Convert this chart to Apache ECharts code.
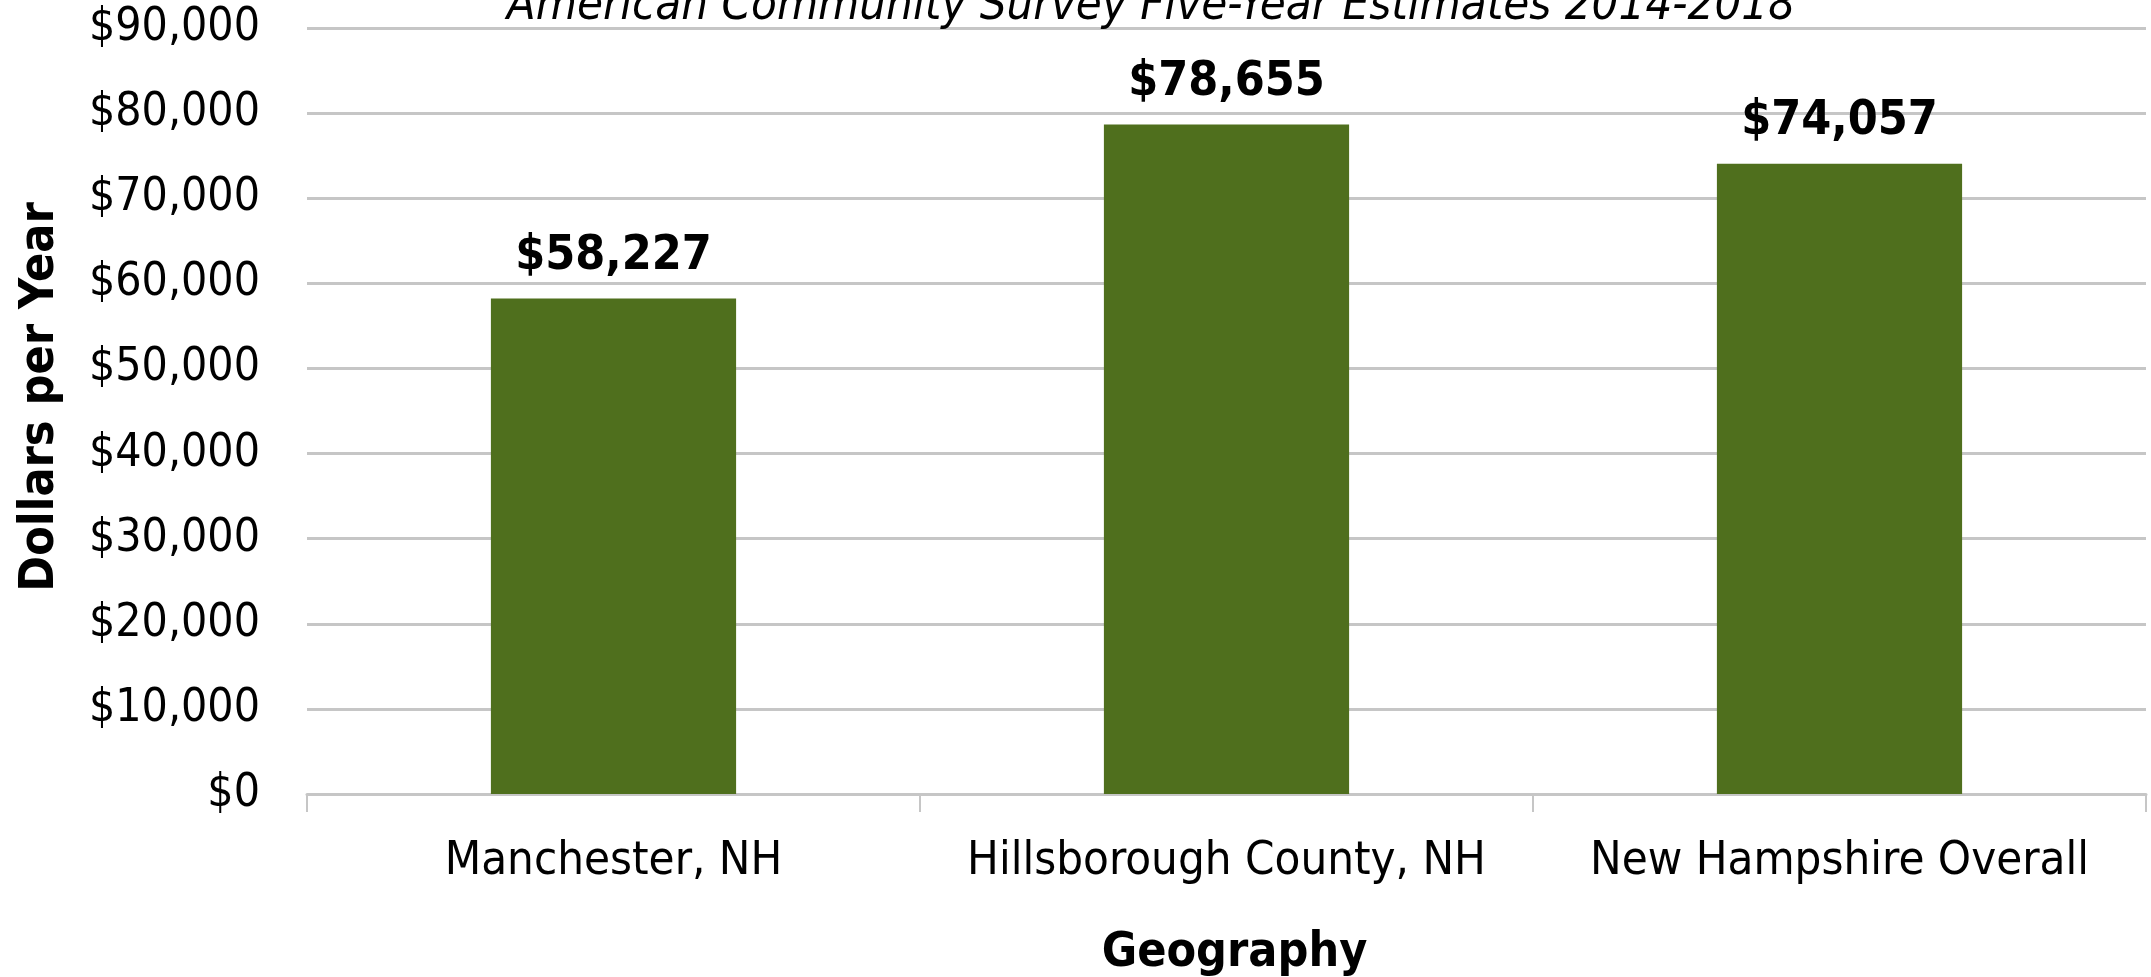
<!DOCTYPE html>
<html>
<head>
<meta charset="utf-8">
<script src="https://cdn.jsdelivr.net/npm/echarts@6/dist/echarts.min.js"></script>
<style>
html,body{margin:0;padding:0;background:#fff;}
#chart{width:2151px;height:977px;}
</style>
</head>
<body>
<div id="chart"></div>
<script>
var categories = ['Manchester, NH', 'Hillsborough County, NH', 'New Hampshire Overall'];
var incomeValues = [58227, 78655, 74057];
var subtitleText = 'American Community Survey Five-Year Estimates 2014-2018';
var yAxisName = 'Dollars per Year';
var xAxisName = 'Geography';

var FONT = '"DejaVu Sans Condensed", "DejaVu Sans", sans-serif';
function money(v){ return '$' + Math.round(v).toString().replace(/\B(?=(\d{3})+(?!\d))/g, ','); }

var chart = echarts.init(document.getElementById('chart'));
chart.setOption({
  backgroundColor: '#ffffff',
  animation: false,
  title: {
    text: subtitleText,
    left: 1146, textAlign: 'center',
    top: -22,
    textStyle: { fontFamily: FONT, fontStyle: 'italic', fontWeight: 'normal', fontSize: 47, color: '#000' }
  },
  grid: { left: 307, right: 5, top: 28, bottom: 183, containLabel: false, outerBoundsMode: 'none' },
  xAxis: {
    type: 'category',
    data: categories,
    name: xAxisName,
    nameLocation: 'middle',
    nameGap: 136,
    nameTextStyle: { fontFamily: FONT, fontWeight: 'bold', fontSize: 48, color: '#000', padding: [0, 0, 0, 16] },
    axisLine: { show: true, lineStyle: { color: '#c6c6c6', width: 3 } },
    axisTick: { show: true, interval: 0, alignWithLabel: false, length: 18, lineStyle: { color: '#c6c6c6', width: 2 } },
    axisLabel: { interval: 0, hideOverlap: false, margin: 44, fontFamily: FONT, fontSize: 47, color: '#000' }
  },
  yAxis: {
    type: 'value',
    min: 0, max: 90000, interval: 10000,
    name: yAxisName,
    nameLocation: 'middle',
    nameGap: 242,
    nameRotate: 90,
    nameTextStyle: { fontFamily: FONT, fontWeight: 'bold', fontSize: 48, color: '#000', padding: [0, 0, 0, 28] },
    axisLine: { show: false },
    axisTick: { show: false },
    splitLine: { show: true, lineStyle: { color: '#c6c6c6', width: 3 } },
    axisLabel: { margin: 47, fontFamily: FONT, fontSize: 46, color: '#000', formatter: money }
  },
  series: [{
    type: 'bar',
    data: incomeValues,
    barWidth: '40%',
    itemStyle: { color: '#4f6f1d' },
    label: {
      show: true, position: 'top', distance: 18,
      fontFamily: FONT, fontWeight: 'bold', fontSize: 48, color: '#000',
      formatter: function(p){ return money(p.value); }
    }
  }]
});
</script>
</body>
</html>
